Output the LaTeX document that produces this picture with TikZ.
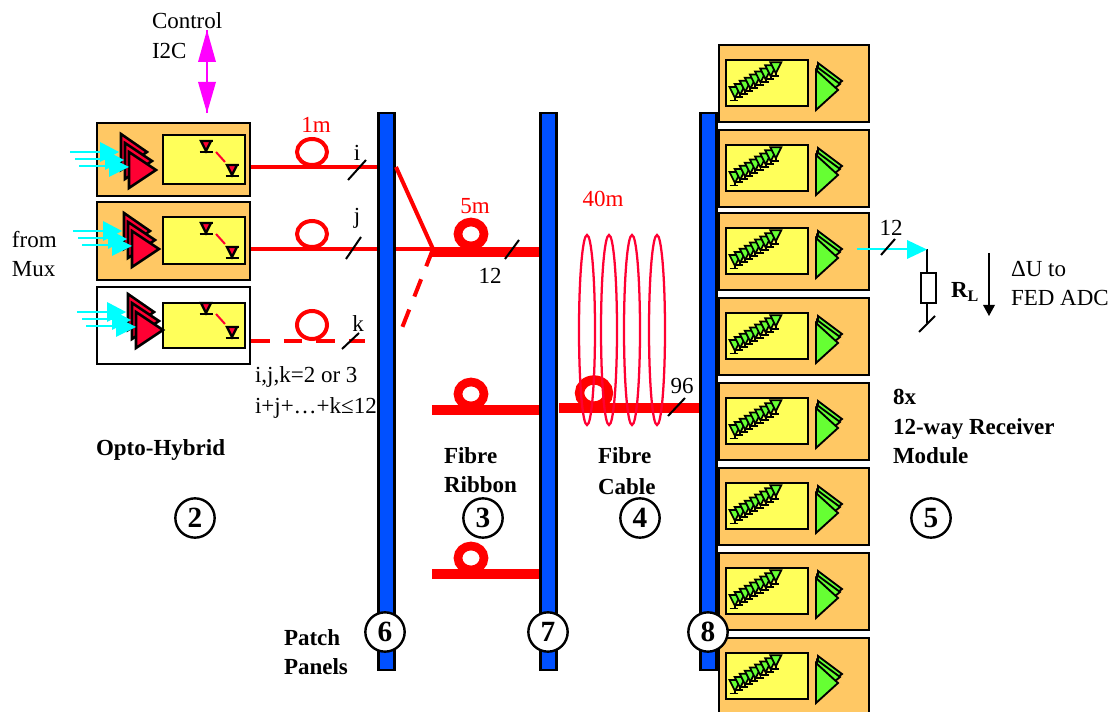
\documentclass[tikz,border=0pt]{standalone}
\usepackage{fontspec}
\setmainfont{Liberation Serif}
\usetikzlibrary{shapes.geometric}
\definecolor{orng}{RGB}{255,200,100}
\definecolor{yel}{RGB}{255,255,90}
\definecolor{grn}{RGB}{102,255,51}
\definecolor{crim}{RGB}{255,0,51}
\definecolor{pblue}{RGB}{0,80,255}
\definecolor{cyn}{RGB}{0,255,255}
\definecolor{mag}{RGB}{255,0,255}
\newcommand{\fsz}{\fontsize{17.25}{20}\selectfont}
\newcommand{\fbig}{\fontsize{22}{24}\selectfont\bfseries}
\tikzset{
  x=0.75pt,y=-0.75pt,
  txt/.style={font=\fsz,inner sep=0pt,outer sep=0pt,anchor=base west},
  txtb/.style={txt,font=\fsz\bfseries},
  rtxt/.style={font=\fsz,inner sep=0pt,outer sep=0pt,anchor=base,text=red},
  ctxt/.style={font=\fsz,inner sep=0pt,outer sep=0pt,anchor=base},
  pnl/.style={draw=black,line width=2pt,fill=pblue,minimum width=12pt,minimum height=417.75pt,inner sep=0pt},
  hybrid/.style={draw=black,line width=1.9pt,fill=orng,minimum width=114.75pt,inner sep=0pt},
  blk/.style={draw=black,line width=1.9pt,fill=yel},
  fib/.style={draw=red,line width=3pt},
  rib/.style={draw=red,line width=7pt},
  tick/.style={draw=black,line width=1.5pt},
  tri/.style={draw=black,line width=1.9pt,fill=crim,line join=miter},
  gtri/.style={draw=black,line width=1.4pt,fill=grn,line join=miter},
  num/.style={circle,draw=black,line width=1.8pt,fill=white,minimum size=29.5pt,inner sep=0pt,font=\fbig},
  coil/.style={draw=crim,line width=1.7pt},
  pics/inTri/.style={code={
    \draw[tri] (121,134) -- (147,152) -- (121,170) -- cycle;
    \draw[tri] (125,143) -- (152,161) -- (125,179) -- cycle;
    \draw[tri] (129,152) -- (156,170) -- (129,188) -- cycle;
    \draw[cyn,line width=1.8pt] (70,152) -- (105,152);
    \fill[cyn] (100,142) -- (119,152) -- (100,162) -- cycle;
    \draw[cyn,line width=1.8pt] (75,159) -- (110,159);
    \fill[cyn] (105,150) -- (124,160) -- (105,170) -- cycle;
    \draw[cyn,line width=1.8pt] (79,166) -- (115,166);
    \fill[cyn] (109,157) -- (129,167) -- (109,177) -- cycle;
  }},
  pics/det/.style={code={
    \draw[draw=black,line width=1.7pt,fill=crim,line join=miter] (-5,0) -- (5,0) -- (0,10) -- cycle;
    \draw[black,line width=1.7pt] (-6.5,0) -- (6.5,0) (0,8) -- (0,11) (-6.5,11) -- (6.5,11);
  }},
  pics/gdet/.style={code={
    \draw[gtri,line width=1.3pt] (-5.5,0) -- (5.5,0) -- (0,11) -- cycle;
    \draw[black,line width=1.4pt] (0,10) -- (0,13) (-5.5,13.5) -- (3,13.5);
  }},
  pics/rxmod/.style={code={
    \draw[draw=black,line width=1.9pt,fill=orng] (0,0) rectangle (150,77);
    \draw[blk,line width=1.8pt] (7,15) rectangle (89,61);
    \foreach \k in {0,...,8}{
      \pic at ({16+\k*5.1},{42-\k*3.1}) {gdet};
    }
    \draw[gtri] (99,18) -- (123,36) -- (99,54) -- cycle;
    \draw[gtri] (98,22) -- (121,39) -- (98,58) -- cycle;
    \draw[gtri] (97,25) -- (119,45) -- (97,65) -- cycle;
  }}
}
\begin{document}
\begin{tikzpicture}
\clip (0,0) rectangle (1117,712);
\useasboundingbox (0,0) rectangle (1117,712);

% opto-hybrid boxes
\node[hybrid,minimum height=54.75pt] (oh1) at (173.5,159.5) {};
\node[hybrid,minimum height=58.5pt] (oh2) at (173.5,241) {};
\node[hybrid,fill=white,minimum height=57.75pt] (oh3) at (173.5,325.5) {};
\draw[blk] (163,135) rectangle (245,184);
\draw[blk] (163,217) rectangle (245,264);
\draw[blk] (163,303) rectangle (245,348);
\pic at (0,0) {inTri};
\pic at (3,79) {inTri};
\pic at (7,160) {inTri};
\foreach \dy in {0,82,162}{
  \pic at (206,141+\dy) {det};
  \pic at (232,165+\dy) {det};
  \draw[crim,line width=1.5pt] (216,152+\dy) -- (225,162+\dy);
}

% panels
\node[pnl] (pp6) at (386.5,391.5) {};
\node[pnl] (pp7) at (548.5,391.5) {};
\node[pnl] (pp8) at (708.5,391.5) {};

% fibres, patch panel 6 side
\coordinate (fi) at (oh1.east |- 0,167);
\coordinate (fj) at (oh2.east |- 0,249);
\coordinate (fk) at (oh3.east |- 0,341);
\coordinate (mrg) at (433,249);
\coordinate (ti) at (396,167);
\coordinate (tj) at (396,249);
\coordinate (tk) at (402,328);
\draw[fib] (fi) -- (pp6.west |- fi);
\draw[fib] (fj) -- (pp6.west |- fj);
\draw[fib,dash pattern=on 13.9pt off 10.5pt] (fk) -- (365,341);
\draw[fib] (312,152) ellipse [x radius=15,y radius=13];
\draw[fib] (312,234) ellipse [x radius=15,y radius=13];
\draw[fib] (312,325) ellipse [x radius=15,y radius=14];
\draw[fib] (ti) -- (mrg);
\draw[fib] (tj) -- (mrg);
\draw[fib,dash pattern=on 13.9pt off 10.5pt] (mrg) -- (tk);

% ribbons
\coordinate (r1) at (432,252);
\coordinate (r2) at (432,410);
\coordinate (r3) at (432,574);
\coordinate (c1) at (559,408);
\draw[rib] (r1) -- (pp7.west |- r1);
\draw[rib] (r2) -- (pp7.west |- r2);
\draw[rib] (r3) -- (pp7.west |- r3);
\draw[rib] (c1) -- (pp8.west |- c1);
\draw[fib,line width=6.5pt] (471,234) ellipse [x radius=13,y radius=12];
\draw[fib,line width=6.5pt] (471,394) ellipse [x radius=13,y radius=12];
\draw[fib,line width=6.5pt] (471,558) ellipse [x radius=13,y radius=12];
\draw[fib,line width=7pt] (594,393) ellipse [x radius=14.5,y radius=13];
\foreach \cx in {587,609,632,657}{
  \draw[coil] (\cx,330) ellipse [x radius=8,y radius=95];
}

% slashes
\draw[tick] (348,180) -- (366,160);
\draw[tick] (346,259) -- (361,237);
\draw[tick] (342,349) -- (359,333);
\draw[tick] (505,259) -- (519,240);
\draw[tick] (668,416) -- (685,398);

% receiver modules
\foreach \yy in {45,130,213,298,383,468,553,638}{
  \pic at (719,\yy) {rxmod};
}

% magenta arrow
\coordinate (magT) at (207,30);
\coordinate (magB) at (207,113);
\draw[mag,line width=1.6pt] (magT) -- (magB);
\fill[mag] (magT) -- (216,62) -- (198,62) -- cycle;
\fill[mag] (magB) -- (216,82) -- (198,82) -- cycle;

% output
\coordinate (outA) at (857,249);
\coordinate (outB) at (927,249);
\coordinate (outC) at (927,323);
\node[draw=black,line width=1.6pt,fill=white,minimum width=11pt,minimum height=22.5pt,inner sep=0pt] (rl) at (928.5,288) {};
\draw[black,line width=1.6pt] (outB) -- (rl.north -| outB);
\draw[black,line width=1.6pt] (rl.south -| outC) -- (outC);
\draw[cyn,line width=1.8pt] (outA) -- (910,249);
\fill[cyn] (907,240) -- (927,249.5) -- (907,259) -- cycle;
\draw[tick] (881,255) -- (895,239);
\draw[tick] (919,332) -- (935,316);
\coordinate (duT) at (989,253);
\coordinate (duB) at (989,316);
\draw[black,line width=1.6pt] (duT) -- (989,306);
\fill[black] (duB) -- (983,305) -- (995,305) -- cycle;

% circled numbers
\node[num] (n2) at (195,518) {2};
\node[num] (n3) at (483,518) {3};
\node[num] (n4) at (640,518) {4};
\node[num] (n5) at (931,518) {5};
\node[num] (n6) at (385,632) {6};
\node[num] (n7) at (548,632) {7};
\node[num] (n8) at (708,632) {8};

% text
\node[txt] (t1) at (152,29) {Control};
\node[txt] (t2) at (152,59) {I2C};
\node[txt] (t3) at (12,248) {from};
\node[txt] (t4) at (12,277) {Mux};
\node[rtxt] (t5) at (316,133) {1m};
\node[ctxt] (t6) at (357,161) {i};
\node[ctxt] (t7) at (357,224) {j};
\node[ctxt] (t8) at (358,332) {k};
\node[rtxt] (t9) at (475,214) {5m};
\node[ctxt] (t10) at (490,284) {12};
\node[rtxt] (t11) at (603,207) {40m};
\node[ctxt] (t12) at (682,394) {96};
\node[ctxt] (t13) at (891,236) {12};
\node[txt] (t14) at (255,383) {i,j,k=2 or 3};
\node[txt] (t15) at (255,414) {i+j+…+k≤12};
\node[txtb] (t16) at (96,456) {Opto-Hybrid};
\node[txtb] (t17) at (444,464) {Fibre};
\node[txtb] (t18) at (444,493) {Ribbon};
\node[txtb] (t19) at (598,464) {Fibre};
\node[txtb] (t20) at (598,494) {Cable};
\node[txtb] (t21) at (893,405) {8x};
\node[txtb] (t22) at (893,435) {12-way Receiver};
\node[txtb] (t23) at (893,464) {Module};
\node[txtb] (t24) at (284,645) {Patch};
\node[txtb] (t25) at (284,674) {Panels};
\node[txtb] (t26) at (951,298) {R\textsubscript{L}};
\node[txt] (t27) at (1011,277) {ΔU to};
\node[txt] (t28) at (1011,306) {FED ADC};
\end{tikzpicture}
\end{document}
